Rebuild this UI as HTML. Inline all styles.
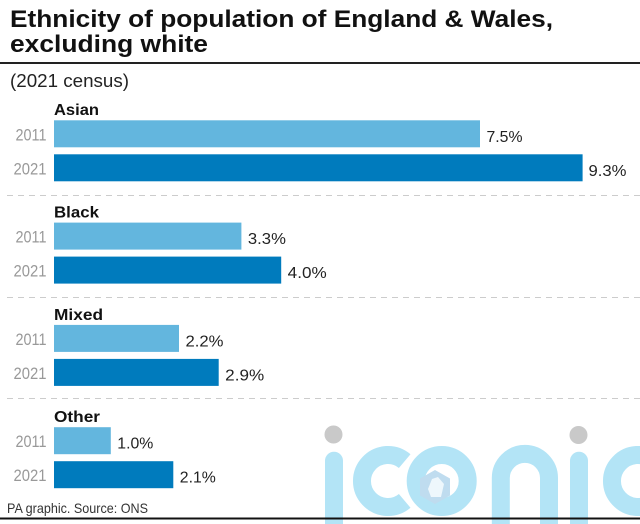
<!DOCTYPE html>
<html><head><meta charset="utf-8"><style>
html,body{margin:0;padding:0;background:#fff;}
svg{display:block;}
text{font-family:"Liberation Sans",Arial,sans-serif;}
</style></head><body>
<svg width="640" height="524" viewBox="0 0 640 524" xmlns="http://www.w3.org/2000/svg">
<rect width="640" height="524" fill="#fff"/>
<!-- watermark -->
<g fill="none" stroke="#b3e4f6" stroke-width="18">
  <rect x="325" y="451.7" width="18" height="90" rx="9" fill="#b3e4f6" stroke="none"/>
  <path d="M404.7 461.1 A26 26 0 1 0 404.7 500.9"/>
  <circle cx="441.7" cy="481" r="26"/>
  <path d="M500.8 540 V478 A24.1 24.1 0 0 1 549 478 V540"/>
  <rect x="570" y="451.7" width="18" height="90" rx="9" fill="#b3e4f6" stroke="none"/>
  <path d="M654.7 461.1 A26 26 0 1 0 654.7 500.9"/>
</g>
<circle cx="333.5" cy="434.5" r="9" fill="#c9c9c9"/>
<circle cx="578.5" cy="435" r="9" fill="#c9c9c9"/>
<polygon points="435,470 450,478.5 450,495.5 435,504 420,495.5 420,478.5" fill="#bfdcef"/>
<polygon points="438,477 444,484 441,497 431,497 428,489 432,479" fill="#eef7fc"/>

<!-- title -->
<text x="10" y="27" font-size="24" font-weight="bold" fill="#111" textLength="543" lengthAdjust="spacingAndGlyphs">Ethnicity of population of England &amp; Wales,</text>
<text x="10" y="52" font-size="24" font-weight="bold" fill="#111" textLength="198" lengthAdjust="spacingAndGlyphs">excluding white</text>
<rect x="0" y="62" width="640" height="2" fill="#222"/>
<text x="10" y="87" font-size="18" fill="#222" textLength="119" lengthAdjust="spacingAndGlyphs">(2021 census)</text>

<!-- dashed separators -->
<g stroke="#cccccc" stroke-width="1" stroke-dasharray="6,5">
  <line x1="7" y1="195.5" x2="640" y2="195.5"/>
  <line x1="7" y1="297.5" x2="640" y2="297.5"/>
  <line x1="7" y1="398.5" x2="640" y2="398.5"/>
</g>

<!-- Asian -->
<text x="54" y="115" font-size="16" font-weight="bold" fill="#111" textLength="45" lengthAdjust="spacingAndGlyphs">Asian</text>
<rect x="54" y="120.3" width="426" height="27" fill="#63b6de"/>
<rect x="54" y="154.3" width="528.6" height="27" fill="#007bbd"/>
<text x="46.5" y="140.3" font-size="16.5" fill="#999" text-anchor="end" textLength="31" lengthAdjust="spacingAndGlyphs">2011</text>
<text x="46.5" y="174.3" font-size="16.5" fill="#999" text-anchor="end" textLength="33" lengthAdjust="spacingAndGlyphs">2021</text>
<text x="486.5" y="141.8" font-size="16" fill="#222" textLength="36" lengthAdjust="spacingAndGlyphs">7.5%</text>
<text x="588.5" y="175.8" font-size="16" fill="#222" textLength="38" lengthAdjust="spacingAndGlyphs">9.3%</text>

<!-- Black -->
<text x="54" y="217.6" font-size="16" font-weight="bold" fill="#111" textLength="45" lengthAdjust="spacingAndGlyphs">Black</text>
<rect x="54" y="222.6" width="187.4" height="27" fill="#63b6de"/>
<rect x="54" y="256.6" width="227.2" height="27" fill="#007bbd"/>
<text x="46.5" y="242.6" font-size="16.5" fill="#999" text-anchor="end" textLength="31" lengthAdjust="spacingAndGlyphs">2011</text>
<text x="46.5" y="276.6" font-size="16.5" fill="#999" text-anchor="end" textLength="33" lengthAdjust="spacingAndGlyphs">2021</text>
<text x="247.9" y="244.1" font-size="16" fill="#222" textLength="38" lengthAdjust="spacingAndGlyphs">3.3%</text>
<text x="287.7" y="278.1" font-size="16" fill="#222" textLength="39" lengthAdjust="spacingAndGlyphs">4.0%</text>

<!-- Mixed -->
<text x="54" y="319.9" font-size="16" font-weight="bold" fill="#111" textLength="49" lengthAdjust="spacingAndGlyphs">Mixed</text>
<rect x="54" y="324.9" width="125" height="27" fill="#63b6de"/>
<rect x="54" y="358.9" width="164.7" height="27" fill="#007bbd"/>
<text x="46.5" y="344.9" font-size="16.5" fill="#999" text-anchor="end" textLength="31" lengthAdjust="spacingAndGlyphs">2011</text>
<text x="46.5" y="378.9" font-size="16.5" fill="#999" text-anchor="end" textLength="33" lengthAdjust="spacingAndGlyphs">2021</text>
<text x="185.5" y="346.4" font-size="16" fill="#222" textLength="38" lengthAdjust="spacingAndGlyphs">2.2%</text>
<text x="225.2" y="380.4" font-size="16" fill="#222" textLength="39" lengthAdjust="spacingAndGlyphs">2.9%</text>

<!-- Other -->
<text x="54" y="422.2" font-size="16" font-weight="bold" fill="#111" textLength="46" lengthAdjust="spacingAndGlyphs">Other</text>
<rect x="54" y="427.2" width="56.8" height="27" fill="#63b6de"/>
<rect x="54" y="461.2" width="119.3" height="27" fill="#007bbd"/>
<text x="46.5" y="447.2" font-size="16.5" fill="#999" text-anchor="end" textLength="31" lengthAdjust="spacingAndGlyphs">2011</text>
<text x="46.5" y="481.2" font-size="16.5" fill="#999" text-anchor="end" textLength="33" lengthAdjust="spacingAndGlyphs">2021</text>
<text x="117.3" y="448.7" font-size="16" fill="#222" textLength="36" lengthAdjust="spacingAndGlyphs">1.0%</text>
<text x="179.8" y="482.7" font-size="16" fill="#222" textLength="36" lengthAdjust="spacingAndGlyphs">2.1%</text>

<!-- footer -->
<text x="7" y="513" font-size="14" fill="#333" textLength="141" lengthAdjust="spacingAndGlyphs">PA graphic. Source: ONS</text>
<rect x="0" y="517.5" width="640" height="2" fill="#111"/>
</svg>
</body></html>
